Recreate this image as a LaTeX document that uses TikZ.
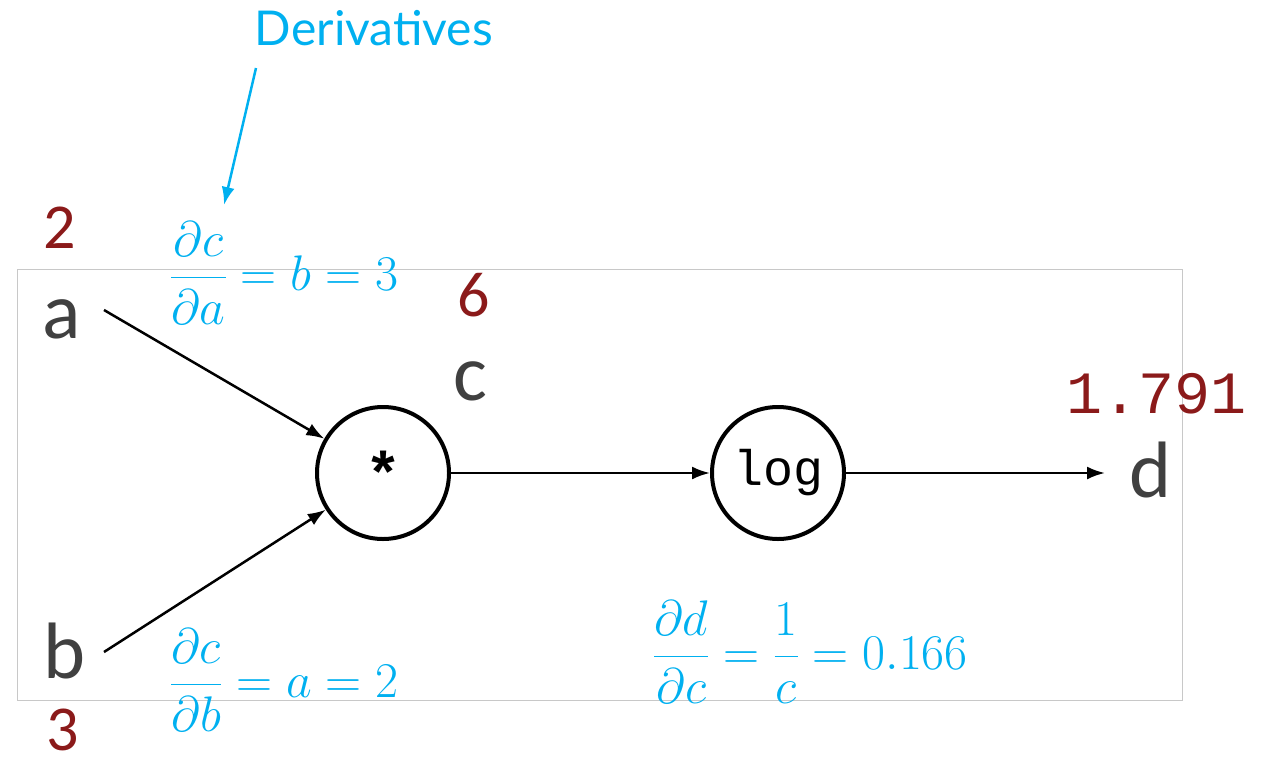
\RequirePackage{fix-cm}
\documentclass[tikz,border=0pt]{standalone}
\usepackage{fontspec}
\setmainfont{Carlito}
\newfontfamily\latofont{Lato}
\newfontfamily\monofont{Liberation Mono}
\usetikzlibrary{arrows.meta}
\definecolor{dcyan}{HTML}{00B0F0}
\definecolor{dred}{HTML}{8B1A1A}
\definecolor{dgray}{HTML}{404040}
\definecolor{fgray}{HTML}{C8C8C8}
\tikzset{
  varlabel/.style={anchor=base, text=dgray, font=\fontsize{80}{90}\selectfont, inner sep=0pt},
  vallabel/.style={anchor=base, text=dred, font=\fontsize{64}{70}\selectfont, inner sep=0pt},
  derivlabel/.style={anchor=base west, text=dcyan, font=\fontsize{50}{58}\selectfont, inner sep=0pt},
  opnode/.style={circle, draw=black, line width=4pt, minimum size=132pt, inner sep=0pt, font=\monofont\fontsize{50}{54}\selectfont},
  flow/.style={draw=black, line width=2.5pt, -{Latex[length=18pt,width=13pt]}},
  callout/.style={draw=dcyan, line width=2.5pt, -{Latex[length=18pt,width=13pt]}},
}
\begin{document}
\begin{tikzpicture}[x=1pt,y=-1pt]
\useasboundingbox (0,0) rectangle (1265,763);
\draw[fgray, line width=1pt] (17,269) rectangle (1182,700);
% nodes
\node[opnode] (mul) at (383,473) {\raisebox{-6pt}{\fontsize{60}{60}\selectfont\bfseries *}};
\node[opnode] (log) at (778,473) {log};
\node[varlabel] (a) at (62,338) {a};
\node[varlabel] (b) at (65,678) {b};
\node[varlabel] (c) at (470,400) {c};
\node[varlabel] (d) at (1150,497) {d};
\coordinate (aout) at (104,310);
\coordinate (bout) at (104,652);
\coordinate (dend) at (1105,473);
\node[vallabel] (va) at (60,248) {2};
\node[vallabel] (vb) at (63,750) {3};
\node[vallabel] (vc) at (474,316) {6};
\node[anchor=base, text=dred, font=\monofont\fontsize{60}{66}\selectfont, inner sep=0pt] (vd) at (1156,413) {1.791};
% derivatives
\node[anchor=base, text=dcyan, font=\latofont\fontsize{48}{54}\selectfont, inner sep=0pt] (deriv) at (374,45) {Derivatives};
\coordinate (dstart) at (256,68);
\coordinate (dtip) at (224,205);
\node[derivlabel] (da) at (170,290) {$\displaystyle\frac{\partial c}{\partial a}=b=3$};
\node[derivlabel] (db) at (170,697) {$\displaystyle\frac{\partial c}{\partial b}=a=2$};
\node[derivlabel] (dc) at (653,669) {$\displaystyle\frac{\partial d}{\partial c}=\frac{1}{c}=0.166$};
% connectors
\draw[flow] (aout) -- (mul);
\draw[flow] (bout) -- (mul);
\draw[flow] (mul) -- (log);
\draw[flow] (log) -- (dend);
\draw[callout] (dstart) -- (dtip);
\end{tikzpicture}
\end{document}
